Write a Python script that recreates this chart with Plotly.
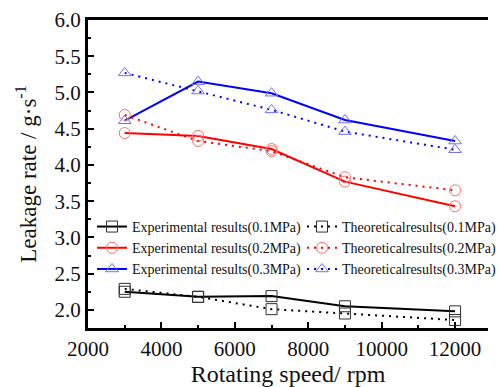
import plotly.graph_objects as go

speed = [3000, 5000, 7000, 9000, 12000]
exp_01 = [2.25, 2.18, 2.19, 2.05, 1.98]
exp_02 = [4.44, 4.40, 4.22, 3.77, 3.43]
exp_03 = [4.61, 5.15, 4.99, 4.62, 4.33]
theo_01 = [2.29, 2.18, 2.01, 1.95, 1.86]
theo_02 = [4.69, 4.33, 4.19, 3.83, 3.65]
theo_03 = [5.27, 5.02, 4.76, 4.46, 4.21]

names_exp = ["Experimental results(0.1MPa)", "Experimental results(0.2MPa)", "Experimental results(0.3MPa)"]
names_theo = ["Theoreticalresults(0.1MPa)", "Theoreticalresults(0.2MPa)", "Theoreticalresults(0.3MPa)"]

line_colors = ["#000000", "#ff0000", "#0000ff"]
marker_colors = ["#303030", "#ff7070", "#7070ff"]
symbols = ["square-open", "circle-open", "triangle-up-open"]

fig = go.Figure()
for i, ys in enumerate([exp_01, exp_02, exp_03]):
    fig.add_trace(go.Scatter(x=speed, y=ys, name=names_exp[i], mode="lines+markers",
                             line=dict(color=line_colors[i], width=2),
                             marker=dict(symbol=symbols[i], size=11, color=marker_colors[i], line=dict(width=1)),
                             legend="legend"))
for i, ys in enumerate([theo_01, theo_02, theo_03]):
    fig.add_trace(go.Scatter(x=speed, y=ys, name=names_theo[i], mode="lines+markers",
                             line=dict(color=line_colors[i], width=2, dash="2px,5px"),
                             marker=dict(symbol=symbols[i], size=11, color=marker_colors[i], line=dict(width=1)),
                             legend="legend2"))

font_family = "Times New Roman"
fig.update_layout(
    width=501, height=387,
    margin=dict(l=88, r=0, t=20, b=59),
    plot_bgcolor="white", paper_bgcolor="white",
    font=dict(family=font_family, size=20, color="#111"),
    legend=dict(x=0.01, y=0.38, xanchor="left", yanchor="top", bgcolor="rgba(0,0,0,0)",
                font=dict(size=14, family=font_family), tracegroupgap=0, itemwidth=30),
    legend2=dict(x=0.535, y=0.38, xanchor="left", yanchor="top", bgcolor="rgba(0,0,0,0)",
                 font=dict(size=14, family=font_family), tracegroupgap=0, itemwidth=30),
    xaxis=dict(range=[2000, 12897], dtick=2000, tick0=2000, tickformat="d", showgrid=False, zeroline=False,
               showline=True, linecolor="black", linewidth=3, mirror=True,
               ticks="inside", ticklen=6, tickwidth=2, tickcolor="black",
               minor=dict(ticks="inside", ticklen=3, tickwidth=2, dtick=1000, tickcolor="black"),
               tickfont=dict(size=21, family=font_family),
               title=dict(text="Rotating speed/ rpm", font=dict(size=24, family=font_family), standoff=2)),
    yaxis=dict(range=[1.75, 6.0], dtick=0.5, tick0=2.0, tickformat=".1f", showgrid=False, zeroline=False,
               showline=True, linecolor="black", linewidth=3,
               ticks="inside", ticklen=6, tickwidth=2, tickcolor="black",
               minor=dict(ticks="inside", ticklen=3, tickwidth=2, dtick=0.25, tickcolor="black"),
               tickfont=dict(size=21, family=font_family),
               title=dict(text="Leakage rate / g·s<sup>-1</sup>", font=dict(size=23, family=font_family), standoff=12)),
)

fig.write_html("out.html")
